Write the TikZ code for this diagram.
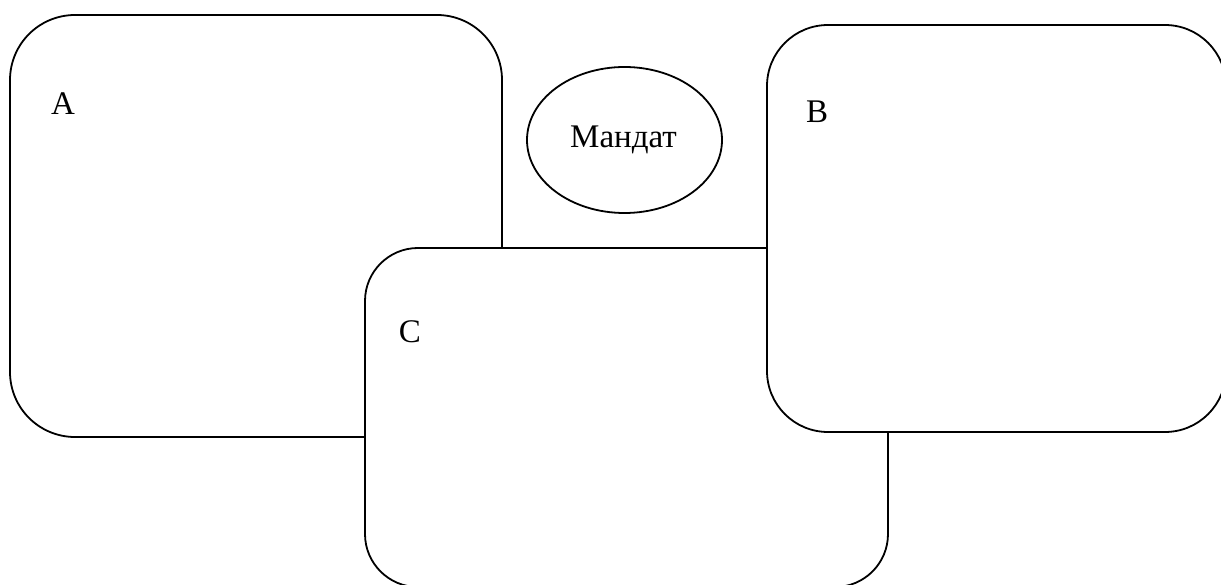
\documentclass[tikz,border=0pt]{standalone}
\usepackage{fontspec}
\setmainfont{Liberation Serif}
\usetikzlibrary{shapes.geometric}
\begin{document}
\begin{tikzpicture}[x=1pt,y=-1pt,
  box/.style={draw=black,fill=white,line width=1.8pt,rectangle,inner sep=0pt,outer sep=0pt,anchor=north west},
  lbl/.style={font=\fontsize{33}{39}\selectfont,inner sep=0pt}]
\useasboundingbox (0,0) rectangle (1221,585);
\clip (0,0) rectangle (1221,585);
\node[box,rounded corners=65pt,minimum width=492pt,minimum height=422pt] (boxA) at (10,15) {};
\node[draw=black,line width=1.8pt,ellipse,minimum width=195pt,minimum height=146pt,inner sep=0pt] (mandat) at (624.5,140) {};
\node[box,rounded corners=53pt,minimum width=523pt,minimum height=339pt] (boxC) at (365,248) {};
\node[box,rounded corners=61pt,minimum width=459pt,minimum height=407pt] (boxB) at (767,25) {};
\node[lbl] (la) at (63,104) {A};
\node[lbl] (lm) at (623.5,140) {Мандат};
\node[lbl] (lb) at (817,112) {B};
\node[lbl] (lc) at (410,332) {C};
\end{tikzpicture}
\end{document}
